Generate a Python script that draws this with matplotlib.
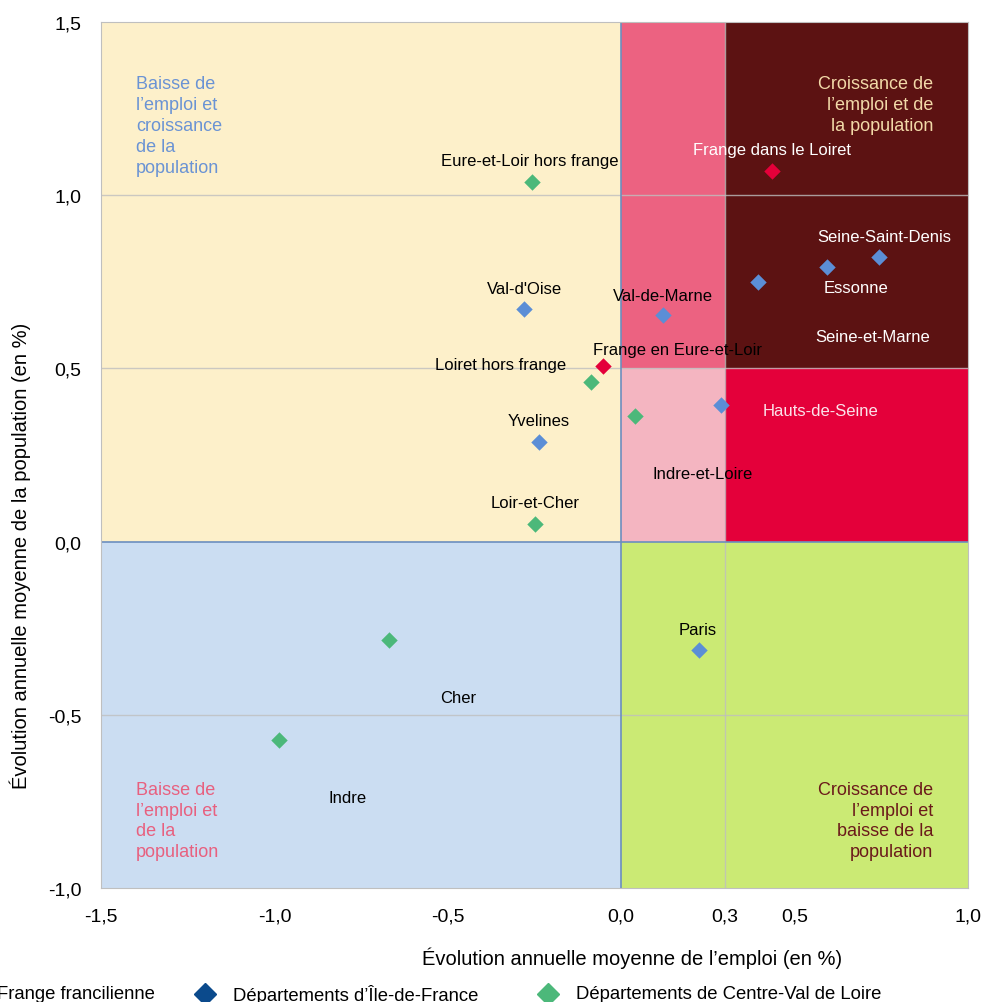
import matplotlib.pyplot as plt
from matplotlib.lines import Line2D
from matplotlib.patches import Rectangle

plt.rcParams['font.family'] = ['Liberation Sans', 'DejaVu Sans']

# %% Data
frange_noms = ['Frange dans le Loiret', 'Frange en Eure-et-Loir']
frange_emploi = [0.435, -0.052]
frange_pop = [1.07, 0.507]

idf_noms = ['Seine-Saint-Denis', 'Essonne', 'Seine-et-Marne', 'Val-de-Marne',
            "Val-d'Oise", 'Hauts-de-Seine', 'Yvelines', 'Paris']
idf_emploi = [0.743, 0.593, 0.394, 0.121, -0.280, 0.288, -0.237, 0.224]
idf_pop = [0.822, 0.793, 0.749, 0.654, 0.671, 0.394, 0.288, -0.313]

cvl_noms = ['Eure-et-Loir hors frange', 'Loiret hors frange', 'Indre-et-Loire',
            'Loir-et-Cher', 'Cher', 'Indre']
cvl_emploi = [-0.257, -0.087, 0.040, -0.249, -0.670, -0.987]
cvl_pop = [1.038, 0.461, 0.363, 0.051, -0.284, -0.573]

x_ticks = [-1.5, -1.0, -0.5, 0.0, 0.3, 0.5, 1.0]
y_ticks = [-1.0, -0.5, 0.0, 0.5, 1.0, 1.5]

# décalage des étiquettes en pixels (dx, dy) et couleur
label_pos = {
    'Frange dans le Loiret': (0, 21, 'white'),
    'Frange en Eure-et-Loir': (74, 16, 'black'),
    'Seine-Saint-Denis': (5, 20, 'white'),
    'Essonne': (29, -21, 'white'),
    'Seine-et-Marne': (115, -54, 'white'),
    'Val-de-Marne': (0, 20, 'black'),
    "Val-d'Oise": (0, 21, 'black'),
    'Hauts-de-Seine': (99, -5, '#FBE3EA'),
    'Yvelines': (0, 21, 'black'),
    'Paris': (-1, 21, 'black'),
    'Eure-et-Loir hors frange': (-2, 22, 'black'),
    'Loiret hors frange': (-90, 17, 'black'),
    'Indre-et-Loire': (68, -58, 'black'),
    'Loir-et-Cher': (0, 21, 'black'),
    'Cher': (69, -58, 'black'),
    'Indre': (69, -57, 'black'),
}

# %% Figure
fig = plt.figure(figsize=(9.84, 10.03), dpi=100)
ax = fig.add_axes([101/984, 1-889/1003, 867/984, 866/1003])
ax.set_xlim(-1.5, 1.0)
ax.set_ylim(-1.0, 1.5)

# fonds des quadrants
zones = [
    (-1.5, 0.0, 1.5, 1.5, '#FDF0CA'),
    (0.0, 0.5, 0.3, 1.0, '#EC6281'),
    (0.3, 0.5, 0.7, 1.0, '#5C1212'),
    (0.0, 0.0, 0.3, 0.5, '#F4B5C1'),
    (0.3, 0.0, 0.7, 0.5, '#E4003A'),
    (-1.5, -1.0, 1.5, 1.0, '#CBDDF2'),
    (0.0, -1.0, 1.0, 1.0, '#CBEA74'),
]
for x0, y0, w, h, c in zones:
    ax.add_patch(Rectangle((x0, y0), w, h, facecolor=c, edgecolor='none', zorder=0))

for yv in [-0.5, 0.5, 1.0]:
    ax.axhline(yv, color='#BFBFBF', lw=1, zorder=1, alpha=0.8)
ax.axvline(0.3, color='#BFBFBF', lw=1, zorder=1, alpha=0.8)
ax.axhline(0.0, color='#6C8EBF', lw=1.2, zorder=1)
ax.axvline(0.0, color='#6C8EBF', lw=1.2, zorder=1)

ax.scatter(frange_emploi, frange_pop, marker='D', s=70, color='#E4003A', zorder=3, linewidths=0)
ax.scatter(idf_emploi, idf_pop, marker='D', s=70, color='#5B8ED6', zorder=3, linewidths=0)
ax.scatter(cvl_emploi, cvl_pop, marker='D', s=70, color='#4CB87A', zorder=3, linewidths=0)

for noms, xs, ys in [(frange_noms, frange_emploi, frange_pop),
                     (idf_noms, idf_emploi, idf_pop),
                     (cvl_noms, cvl_emploi, cvl_pop)]:
    for n, xv, yv in zip(noms, xs, ys):
        dx, dy, c = label_pos[n]
        ax.annotate(n, (xv, yv), xytext=(dx, dy), textcoords='offset pixels',
                    ha='center', va='center', fontsize=12, color=c, zorder=4)

# textes des quadrants
x_gauche = -1.5 + 35/346.8
ax.text(x_gauche, 1.347, 'Baisse de\nl’emploi et\ncroissance\nde la\npopulation',
        color='#6A93D4', fontsize=13, ha='left', va='top', linespacing=1.3)
ax.text(0.9, 1.347, 'Croissance de\nl’emploi et de\nla population',
        color='#F2D9A8', fontsize=13, ha='right', va='top', linespacing=1.3)
ax.text(x_gauche, -0.69, 'Baisse de\nl’emploi et\nde la\npopulation',
        color='#E8607F', fontsize=13, ha='left', va='top', linespacing=1.3)
ax.text(0.9, -0.69, 'Croissance de\nl’emploi et\nbaisse de la\npopulation',
        color='#6B1A1A', fontsize=13, ha='right', va='top', linespacing=1.3)

ax.set_xticks(x_ticks)
ax.set_xticklabels([f'{v:.1f}'.replace('.', ',') for v in x_ticks])
ax.set_yticks(y_ticks)
ax.set_yticklabels([f'{v:.1f}'.replace('.', ',') for v in y_ticks])
ax.tick_params(length=0, labelsize=14, pad=14)
for s in ax.spines.values():
    s.set_color('#BFBFBF')

fig.text(632/984, 1-958/1003, 'Évolution annuelle moyenne de l’emploi (en %)',
         ha='center', va='center', fontsize=14.5)
fig.text(20/984, 1-556/1003, 'Évolution annuelle moyenne de la population (en %)',
         ha='center', va='center', fontsize=14.5, rotation=90)

# légende (débordant à gauche comme l'original)
leg_y = 1 - 995/1003
leg = [('#E4003A', 'Frange francilienne', -31),
       ('#0B4A8C', 'Départements d’Île-de-France', 205),
       ('#4CB87A', 'Départements de Centre-Val de Loire', 548)]
for c, lab, px in leg:
    fig.add_artist(Line2D([px/984], [leg_y], marker='D', markersize=11, color=c,
                          linestyle='none', transform=fig.transFigure))
    fig.text((px + 28)/984, leg_y, lab, ha='left', va='center', fontsize=13.3)

fig.savefig('out.png', dpi=100)
